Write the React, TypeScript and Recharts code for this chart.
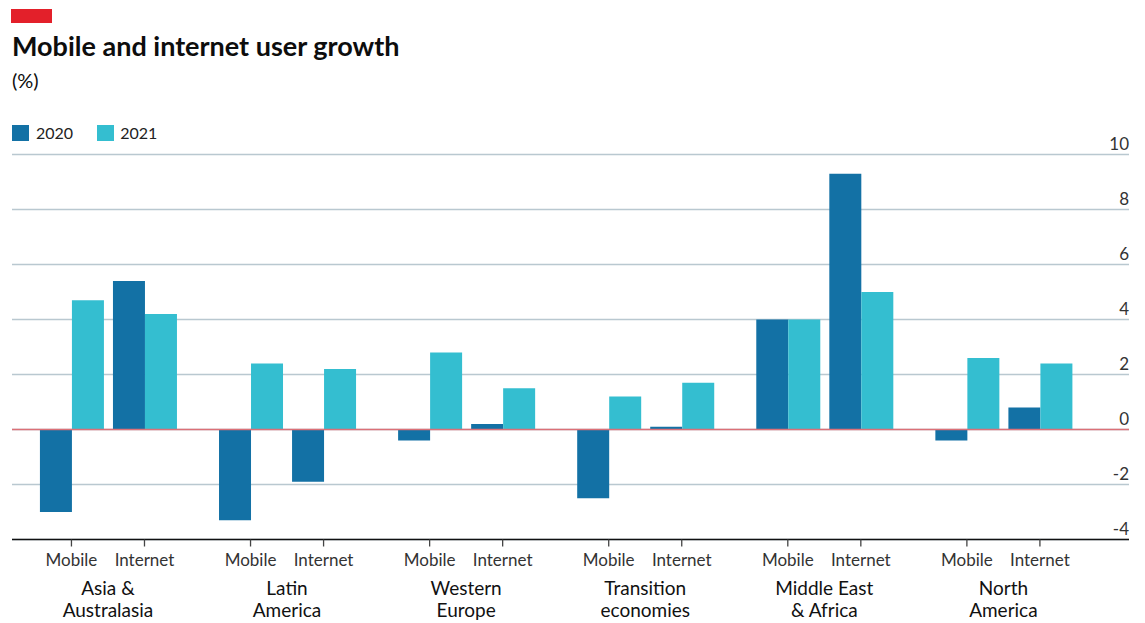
import React from "react";
import { Bar, BarChart, CartesianGrid, ReferenceLine, XAxis, YAxis } from "recharts";

const REGIONS = [
  ["Asia &", "Australasia"],
  ["Latin", "America"],
  ["Western", "Europe"],
  ["Transition", "economies"],
  ["Middle East", "& Africa"],
  ["North", "America"],
];
const METRICS = ["Mobile", "Internet"];
// per region: mobile, internet
const GROWTH_2020 = [-3.0, 5.4, -3.3, -1.9, -0.4, 0.2, -2.5, 0.1, 4.0, 9.3, -0.4, 0.8];
const GROWTH_2021 = [4.7, 4.2, 2.4, 2.2, 2.8, 1.5, 1.2, 1.7, 4.0, 5.0, 2.6, 2.4];
const Y_TICKS = [-4, -2, 0, 2, 4, 6, 8, 10];

const COLOR_2020 = "#1371a5";
const COLOR_2021 = "#34bed0";
const FONT = "Lato, 'Noto Sans', sans-serif";

// regions sit further apart than the two bars inside one region
const REGION_STEP = 179 / 73;

const rows = REGIONS.flatMap((region, r) =>
  METRICS.map((metric, m) => {
    const i = r * METRICS.length + m;
    return {
      metric,
      pos: r * REGION_STEP + m,
      y2020: GROWTH_2020[i],
      y2021: GROWTH_2021[i],
    };
  }),
);
const metricTicks = rows.map((row) => row.pos);
const regionTicks = REGIONS.map((_, r) => r * REGION_STEP + 0.5);

function MetricTick({ x, y, index }: any) {
  return (
    <text x={x} y={y + 19} textAnchor="middle" fill="#333" fontSize={17} fontFamily={FONT}>
      {rows[index]?.metric}
    </text>
  );
}

function RegionTick({ x, y, index }: any) {
  const lines = REGIONS[index] ?? [];
  return (
    <text x={x} y={y} textAnchor="middle" fill="#111" fontSize={19} fontFamily={FONT}>
      {lines.map((line, i) => (
        <tspan key={line} x={x} dy={i === 0 ? 25 : 22}>
          {line}
        </tspan>
      ))}
    </text>
  );
}

function ValueTick({ x, y, payload }: any) {
  return (
    <text x={x} y={y - 5} textAnchor="end" fill="#333" fontSize={17} fontFamily={FONT}>
      {payload.value}
    </text>
  );
}

export default function App() {
  return (
    <div
      style={{
        position: "absolute",
        left: 0,
        top: 0,
        width: 1145,
        height: 623,
        background: "#fff",
        fontFamily: FONT,
        overflow: "hidden",
      }}
    >
      <div style={{ position: "absolute", left: 11, top: 9, width: 41, height: 14, background: "#e3202a" }} />
      <div
        style={{
          position: "absolute",
          left: 12,
          top: 29,
          fontSize: 27,
          fontWeight: 700,
          color: "#0d0d0d",
          whiteSpace: "nowrap",
        }}
      >
        Mobile and internet user growth
      </div>
      <div style={{ position: "absolute", left: 12, top: 68, fontSize: 20, color: "#0d0d0d" }}>(%)</div>

      <div style={{ position: "absolute", left: 12, top: 123, display: "flex", alignItems: "center", fontSize: 16, color: "#222" }}>
        <span style={{ width: 17, height: 16, background: COLOR_2020, display: "inline-block", marginRight: 7 }} />
        <span style={{ marginRight: 24 }}>2020</span>
        <span style={{ width: 17, height: 16, background: COLOR_2021, display: "inline-block", marginRight: 6 }} />
        <span>2021</span>
      </div>

      <div style={{ position: "absolute", left: 0, top: 0 }}>
        <BarChart
          width={1145}
          height={623}
          data={rows}
          margin={{ top: 154.5, right: 16, left: 12, bottom: 3.5 }}
          barGap={0}
        >
          <CartesianGrid vertical={false} stroke="#b9c8d0" strokeWidth={1.3} />
          <XAxis
            xAxisId="metric"
            type="number"
            dataKey="pos"
            domain={[-0.814, 14.48]}
            allowDataOverflow
            ticks={metricTicks}
            interval={0}
            height={30}
            tick={<MetricTick />}
            tickSize={7}
            tickMargin={0}
            tickLine={{ stroke: "#444", strokeWidth: 1.3 }}
            axisLine={{ stroke: "#111", strokeWidth: 1.5 }}
          />
          <XAxis
            xAxisId="region"
            type="number"
            dataKey="pos"
            domain={[-0.814, 14.48]}
            allowDataOverflow
            ticks={regionTicks}
            interval={0}
            height={50}
            tick={<RegionTick />}
            tickSize={0}
            tickMargin={0}
            tickLine={false}
            axisLine={false}
          />
          <YAxis
            orientation="right"
            mirror
            domain={[-4, 10]}
            ticks={Y_TICKS}
            interval={0}
            allowDataOverflow
            tick={<ValueTick />}
            tickSize={0}
            tickMargin={0}
            tickLine={false}
            axisLine={false}
          />
          <Bar xAxisId="metric" dataKey="y2020" name="2020" fill={COLOR_2020} barSize={32} isAnimationActive={false} />
          <Bar xAxisId="metric" dataKey="y2021" name="2021" fill={COLOR_2021} barSize={32} isAnimationActive={false} />
          <ReferenceLine xAxisId="metric" y={0} stroke="#dc7077" strokeWidth={1.6} />
        </BarChart>
      </div>
    </div>
  );
}
